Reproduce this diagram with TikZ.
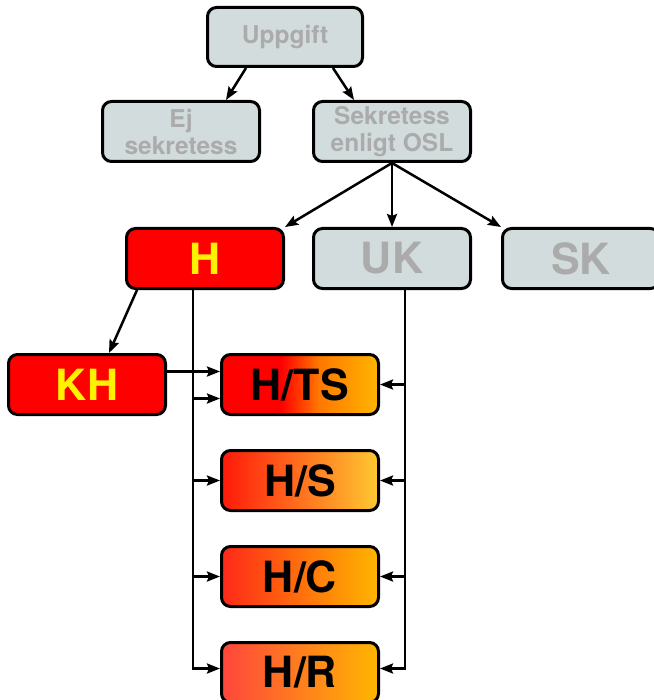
\documentclass[tikz,border=0pt]{standalone}
\usepackage{fontspec}
\setmainfont{TeX Gyre Heros}
\usetikzlibrary{positioning}
\usetikzlibrary{calc}
\usetikzlibrary{arrows.meta}

\definecolor{boxgrey}{RGB}{211,220,220}
\definecolor{txtgrey}{RGB}{171,171,171}
\definecolor{amber}{RGB}{255,182,0}
\definecolor{tsorange}{RGB}{255,120,0}

\newcommand{\bigtxt}{\bfseries\fontsize{43}{43}\selectfont}
\newcommand{\smalltxt}{\bfseries\fontsize{24.5}{27}\selectfont}

\pgfdeclarehorizontalshading{tsshade}{100bp}{color(0bp)=(red); color(25bp)=(red); color(44bp)=(red); color(56bp)=(tsorange); color(75bp)=(amber); color(100bp)=(amber)}

\tikzset{
  box/.style={draw=black, line width=3pt, rounded corners=9pt, minimum width=157pt,
    minimum height=60pt, inner sep=0pt, align=center},
  greybox/.style={box, fill=boxgrey, text=txtgrey, font=\smalltxt},
  redbox/.style={box, fill=red, text=yellow, font=\bigtxt},
  hbox/.style={box, text=black, font=\bigtxt},
  arr/.style={line width=2.5pt, -{Stealth[length=13pt,width=10pt,inset=2pt]}},
}

\begin{document}
\begin{tikzpicture}[x=1pt, y=1pt]
    \useasboundingbox (0,0) rectangle (653,-700);

    % Define nodes
    \node[greybox, minimum width=155pt, minimum height=59pt] (upp) at (285,-37) {Uppgift};
    \node[greybox] (ej) at (181,-131.5) {Ej\\sekretess};
    \node[greybox, right=51pt of ej] (osl) {Sekretess\\enligt OSL};
    \node[greybox, font=\bigtxt, below=64pt of osl] (uk) {UK};
    \node[greybox, font=\bigtxt, right=29pt of uk] (sk) {SK};
    \node[redbox, left=27pt of uk] (h) {H};
    \node[redbox] (kh) at (87,-384.5) {KH};
    \node[hbox, shade, shading=tsshade, right=53pt of kh] (hts) {H/TS};
    \node[hbox, left color={rgb,255:red,255;green,25;blue,10}, middle color={rgb,255:red,255;green,135;blue,20},
      right color={rgb,255:red,255;green,200;blue,50}, below=33pt of hts] (hs) {H/S};
    \node[hbox, left color={rgb,255:red,255;green,40;blue,25}, middle color={rgb,255:red,255;green,140;blue,10},
      right color=amber, below=33pt of hs] (hc) {H/C};
    \node[hbox, left color={rgb,255:red,255;green,70;blue,60}, middle color={rgb,255:red,255;green,150;blue,40},
      right color=amber, below=33pt of hc] (hr) {H/R};

    % Connect the nodes
    \draw[arr] ($(upp.south)+(-39pt,0)$) -- ($(ej.north)+(45pt,0)$);
    \draw[arr] ($(upp.south)+(48pt,0)$) -- ($(osl.north)+(-38pt,0)$);
    \draw[arr] (osl.south) -- (h.north east);
    \draw[arr] (osl.south) -- (uk.north);
    \draw[arr] (osl.south) -- (sk.north west);
    \draw[arr] ($(h.south)+(-68pt,0)$) -- ($(kh.north)+(22pt,0)$);
    \draw[arr] ($(kh.east)+(0,13pt)$) -- ($(hts.west)+(0,13pt)$);

    % H line on the left
    \coordinate (hbus) at ($(h.south)+(-12pt,0)$);
    \coordinate (htsin) at ($(hts.west)+(0,-14pt)$);
    \draw[arr] (hbus) |- ($(hr.west)+(0,4pt)$);
    \draw[arr] (hbus |- htsin) -- (htsin);
    \foreach \n in {hs,hc}
      \draw[arr] (hbus |- \n.west) -- (\n.west);

    % UK line on the right
    \coordinate (ukbus) at ($(uk.south)+(13pt,0)$);
    \draw[arr] (ukbus) |- ($(hr.east)+(0,4pt)$);
    \foreach \n in {hts,hs,hc}
      \draw[arr] (ukbus |- \n.east) -- (\n.east);
  \end{tikzpicture}
\end{document}
